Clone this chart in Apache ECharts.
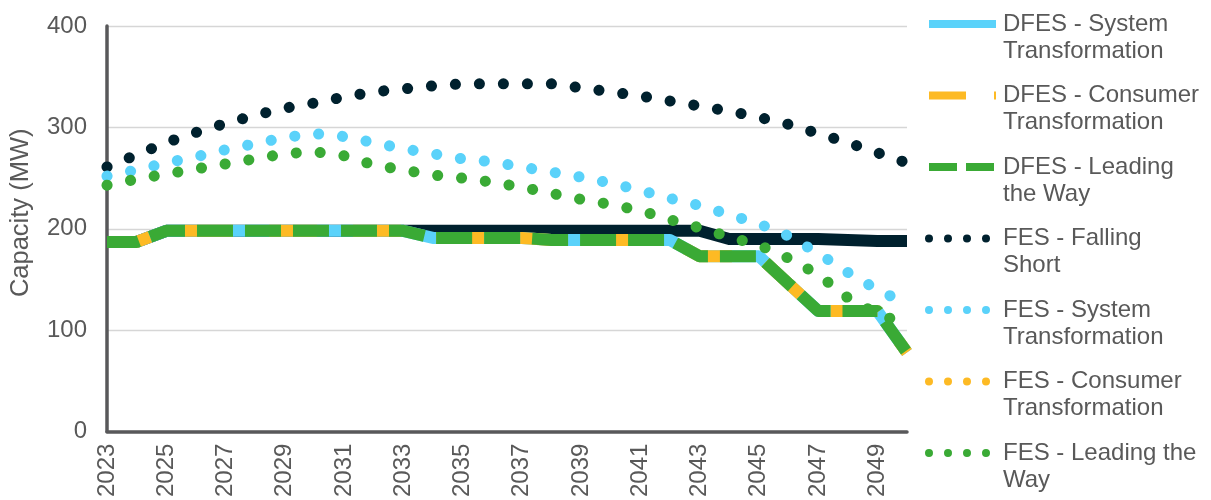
<!DOCTYPE html>
<html>
<head>
<meta charset="utf-8">
<style>
  html, body { margin: 0; padding: 0; background: #ffffff; }
  #chart { width: 1211px; height: 500px; }
</style>
<script src="https://cdn.jsdelivr.net/npm/echarts@6/dist/echarts.min.js"></script>
</head>
<body>
<div id="chart"></div>
<script>
// Years on the horizontal axis
const years = ['2023','2024','2025','2026','2027','2028','2029','2030','2031','2032',
  '2033','2034','2035','2036','2037','2038','2039','2040','2041','2042',
  '2043','2044','2045','2046','2047','2048','2049','2050'];

// Capacity (MW) per scenario
const dfesFallingShort = [187,187,198,198,198,198,198,198,198,198,198,198,198,198,198,198,198,198,198,198,198,190,190,190,190,189,188,188];
const dfesSystem   = [187,187,198,198,198,198,198,198,198,198,198,191,191,191,191,189,189,189,189,189,173,173,173,146,119,119,119,78];
const dfesConsumer = [187,187,198,198,198,198,198,198,198,198,198,191,191,191,191,189,189,189,189,189,173,173,173,146,119,119,119,78];
const dfesLeading  = [187,187,198,198,198,198,198,198,198,198,198,191,191,191,191,189,189,189,189,189,173,173,173,146,119,119,119,78];
const fesFalling   = [261,273,285,295,304,312,319,324,330,335,338,341,343,343,343,343,339,335,331,326,321,316,310,303,294,285,275,265];
const fesSystem    = [252,258,265,271,278,284,290,294,291,285,279,274,269,266,261,256,251,245,238,230,223,214,205,193,176,157,140,126];
const fesConsumer  = []; // no values plotted for this scenario
const fesLeading   = [243,249,254,259,264,269,274,276,272,263,258,253,250,246,241,235,229,224,218,209,201,192,184,171,155,132,116,106];

// Y-axis ticks
const yTicks = [0, 100, 200, 300, 400];

// Legend entries and their two-line labels
const legendNames = ['DFES - System Transformation','DFES - Consumer Transformation','DFES - Leading the Way',
  'FES - Falling Short','FES - System Transformation','FES - Consumer Transformation','FES - Leading the Way'];
const legendLabels = ['DFES - System\nTransformation','DFES - Consumer\nTransformation','DFES - Leading\nthe Way',
  'FES - Falling\nShort','FES - System\nTransformation','FES - Consumer\nTransformation','FES - Leading the\nWay'];

const NAVY = '#00212E', CYAN = '#5AD2FA', AMBER = '#FDBA24', GREEN = '#3AAA35';
const FONT = '"Liberation Sans", Arial, sans-serif';
const TEXT = '#595959';

// Legend key shapes, all drawn in a shared 73 x 8 frame
const FRAME = 'M0,0L0,0Z M73,8L73,8Z ';
const rect = (x0, x1) => `M${x0},0L${x1},0L${x1},8L${x0},8Z `;
const dot = (cx) => `M${cx - 4},4A4,4 0 1,1 ${cx + 4},4A4,4 0 1,1 ${cx - 4},4Z `;
const KEY_SOLID  = 'path://' + FRAME + rect(4, 71);
const KEY_DASH   = 'path://' + FRAME + rect(4, 41) + rect(69, 71);
const KEY_SYSDASH = 'path://' + FRAME + rect(4, 32) + rect(41, 69);
const KEY_DOTS   = 'path://' + FRAME + dot(4) + dot(23) + dot(42) + dot(61);

const dotted = (color) => ({ width: 11, color: color, type: [0.1, 23.9], cap: 'round', join: 'round' });

function lineSeries(name, data, lineStyle) {
  return {
    name: name, type: 'line', data: data,
    showSymbol: false, symbol: 'none', silent: true,
    lineStyle: lineStyle,
    emphasis: { disabled: true }
  };
}

const legendItem = (name, icon, color) => ({ name: name, icon: icon, itemStyle: { color: color, borderWidth: 0, opacity: 1 } });

const chart = echarts.init(document.getElementById('chart'), null, { renderer: 'canvas' });

chart.setOption({
  animation: false,
  backgroundColor: '#ffffff',
  textStyle: { fontFamily: FONT },
  grid: { left: 106, right: 304, top: 26, bottom: 66, containLabel: false },
  xAxis: {
    type: 'category',
    data: years,
    boundaryGap: false,
    axisLine: { show: true, lineStyle: { color: '#58585A', width: 3.5 } },
    axisTick: { show: false },
    axisLabel: {
      interval: 1, rotate: 90, margin: 12,
      fontSize: 24, color: TEXT, fontFamily: FONT
    },
    splitLine: { show: false }
  },
  yAxis: {
    type: 'value',
    min: yTicks[0], max: yTicks[yTicks.length - 1], interval: 100,
    name: 'Capacity (MW)',
    nameLocation: 'middle', nameRotate: 90, nameGap: 73,
    nameTextStyle: { fontSize: 25.5, color: TEXT, fontFamily: FONT, padding: [0, 0, 0, 32] },
    axisLine: { show: true, lineStyle: { color: '#58585A', width: 3.5 } },
    axisTick: { show: false },
    axisLabel: { margin: 20, fontSize: 24, color: TEXT, fontFamily: FONT },
    splitLine: { show: true, lineStyle: { color: '#D6D6D6', width: 1.3 } }
  },
  legend: {
    orient: 'vertical',
    left: 925, top: -16.5, height: 600,
    padding: 0,
    itemGap: -9.5,
    itemWidth: 73, itemHeight: 14,
    selectedMode: false,
    textStyle: { fontSize: 24, color: TEXT, fontFamily: FONT, lineHeight: 27 },
    // leading blank line keeps the first label line level with the key
    formatter: (name) => '\n' + legendLabels[legendNames.indexOf(name)],
    data: [
      legendItem(legendNames[0], KEY_SOLID, CYAN),
      legendItem(legendNames[1], KEY_DASH, AMBER),
      legendItem(legendNames[2], KEY_SYSDASH, GREEN),
      legendItem(legendNames[3], KEY_DOTS, NAVY),
      legendItem(legendNames[4], KEY_DOTS, CYAN),
      legendItem(legendNames[5], KEY_DOTS, AMBER),
      legendItem(legendNames[6], KEY_DOTS, GREEN)
    ]
  },
  series: [
    lineSeries('DFES - Falling Short', dfesFallingShort, { width: 12, color: NAVY, type: 'solid', join: 'round' }),
    lineSeries(legendNames[0], dfesSystem,   { width: 12, color: CYAN,  type: 'solid', join: 'round' }),
    lineSeries(legendNames[1], dfesConsumer, { width: 12, color: AMBER, type: [48, 36], dashOffset: 4, cap: 'butt', join: 'round' }),
    lineSeries(legendNames[2], dfesLeading,  { width: 12, color: GREEN, type: [36, 12], dashOffset: 4, cap: 'butt', join: 'round' }),
    lineSeries(legendNames[3], fesFalling,   dotted(NAVY)),
    lineSeries(legendNames[4], fesSystem,    dotted(CYAN)),
    lineSeries(legendNames[5], fesConsumer,  dotted(AMBER)),
    lineSeries(legendNames[6], fesLeading,   dotted(GREEN))
  ]
});
</script>
</body>
</html>
